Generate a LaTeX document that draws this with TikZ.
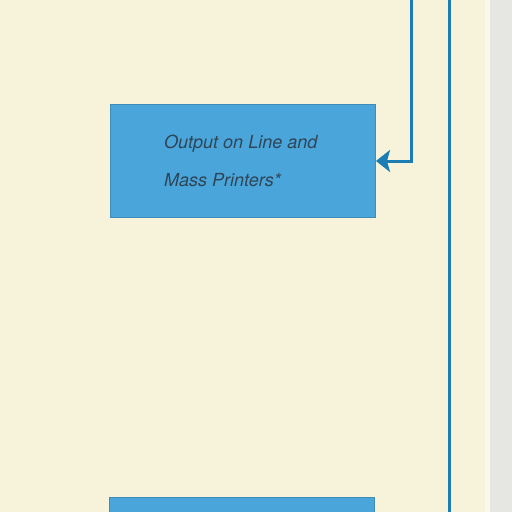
\documentclass[tikz,border=0pt]{standalone}
\usepackage{fontspec}
\setmainfont{TeX Gyre Heros}
\usepackage{xcolor}
\usetikzlibrary{positioning}
\usetikzlibrary{arrows.meta}

\definecolor{paper}{HTML}{F7F3DA}
\definecolor{edge}{HTML}{E6E6E2}
\definecolor{boxblue}{HTML}{4AA5DA}
\definecolor{lineblue}{HTML}{1B7DB3}
\definecolor{inkgray}{HTML}{2F4658}

\begin{document}
\begin{tikzpicture}[x=1pt, y=-1pt,
    flowbox/.style={draw=boxblue!85!black, line width=1pt, fill=boxblue, rectangle, anchor=north west, inner sep=0pt},
    flowtext/.style={anchor=base west, inner sep=0pt, font=\itshape\fontsize{18}{18}\selectfont, text=inkgray},
    flowline/.style={draw=lineblue, line width=3pt}]
            % Page and paper edge
            \useasboundingbox (0,0) rectangle (512,512);
            \clip (0,0) rectangle (512,512);
            \fill[paper] (0,0) rectangle (512,512);
            \fill[paper!60!white] (485,0) rectangle (490,512);
            \fill[edge] (490,0) rectangle (512,512);

            % Boxes
            \node[flowbox, minimum width=265pt, minimum height=113pt] (Printers) at (110,104) {};
            \node[flowtext] (PrintersA) at (164,148) {Output on Line and};
            \node[flowtext] (PrintersB) at (164,186) {Mass Printers*};
            \node[flowbox, minimum width=265pt, minimum height=40pt] (Next) at (109,497) {};

            % Lines
            \coordinate (TopA) at (411,-2);
            \coordinate (TopB) at (449,-2);
            \coordinate (BottomB) at (449,514);
            \draw[flowline, -{Stealth[length=14pt, width=22pt, inset=3pt]}] (TopA) |- (Printers.east |- 0,161);
            \draw[flowline] (TopB) -- (BottomB);
        \end{tikzpicture}
\end{document}
